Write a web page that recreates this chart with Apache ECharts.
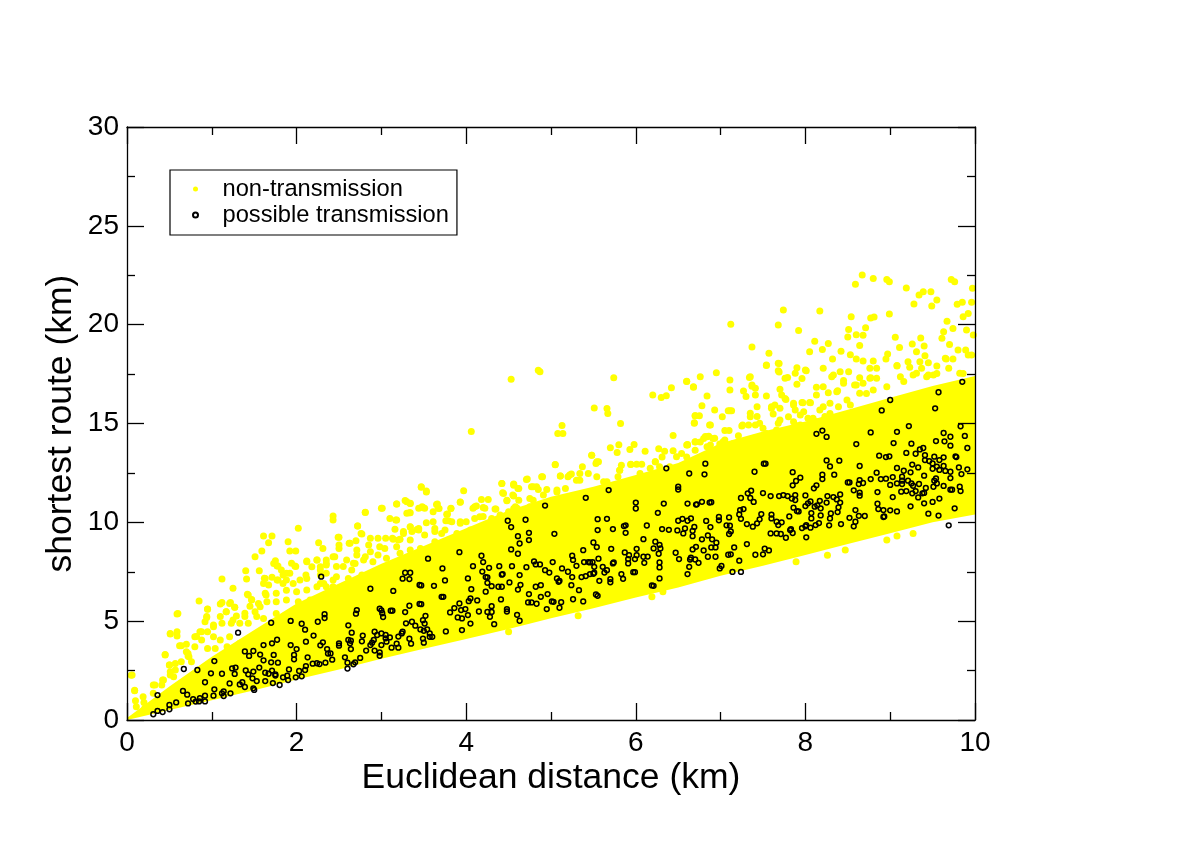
<!DOCTYPE html>
<html>
<head>
<meta charset="utf-8">
<title>shortest route vs Euclidean distance</title>
<script src="https://cdn.jsdelivr.net/npm/echarts@6/dist/echarts.min.js"></script>
<style>
    html, body {margin: 0; padding: 0; background: #fff;}
    #chart {width: 1200px; height: 848px;}
</style>
</head>
<body>
<div id="chart"></div>
<script>
// dense part of the yellow cloud
const coreX = [0,.25,.5,1,1.5,2,2.5,3,3.5,4,4.5,5,5.5,6,6.5,7,7.5,8,8.5,9,9.5,10];
const coreLower = [0,.25,.5,1,1.5,2.05,2.55,3.1,3.6,4.1,4.6,5.15,5.65,6.2,6.7,7.3,7.8,8.35,8.9,9.45,10,10.4];
const coreUpper = [.1,.9,1.7,3.2,4.55,5.9,6.9,7.9,8.8,9.7,10.6,11.3,11.8,12.4,13,14,14.6,15.1,15.7,16.3,16.9,17.4];

// yellow points outside the dense part
const nonTransmission = [
[.06,2.28],[.09,1.48],[.10,.98],[.11,.67],[.20,.88],[.21,.59],[.31,1.77],[.42,2.02],[.45,3.31],[.51,4.35],[.59,4.47],[.59,5.36],[.50,2.78],[.51,2.28],[.57,2.53],[.64,3.76],[.70,3.83],[.72,3.37],[.73,3.20],[.86,4.47],[.85,6.02],[.95,5.60],[1.10,5.87],[1.12,5.94],[1.22,5.94],[1.27,5.70],[1.17,5.48],[1.25,6.66],[1.12,7.13],[1.40,7.55],[1.41,7.13],[1.42,6.36],[1.47,6.10],[1.51,8.26],[1.59,8.55],[1.61,9.31],[1.71,9.31],[1.67,8.97],[1.56,7.55],[1.75,8.06],[1.78,7.79],[1.82,7.59],[1.62,7.17],[1.71,7.22],[1.64,6.32],[1.90,9.02],[1.92,8.55],[1.99,8.55],[1.94,7.93],[1.99,7.76],[2.02,9.70],[2.12,8.04],[2.11,7.34],[2.26,8.97],[2.31,8.68],[2.24,8.09],[2.43,10.32],[2.43,10.12],[2.35,8.09],[2.45,8.26],[2.49,9.24],[2.50,8.68],[2.62,8.94],[2.59,8.09],[2.72,9.81],[2.81,10.51],[2.77,9.41],[2.70,9.07],[2.71,8.60],[2.87,9.19],[2.96,9.19],[3.05,9.19],[3.01,10.71],[3.10,10.20],[3.18,10.12],[3.18,10.93],[3.28,11.10],[3.34,10.96],[3.30,10.46],[3.34,10.49],[3.16,9.65],[3.34,9.78],[3.26,9.44],[3.13,9.19],[3.20,9.11],[3.44,10.71],[3.44,9.61],[2.85,8.85],[2.81,8.26],[2.98,8.77],[3.34,9.11],[2.28,7.59],[2.47,7.76],[2.67,7.93],[2.43,7.08],[1.10,5.23],[.94,5.23],[1.02,4.72],[.82,4.22],[1.25,5.06],[1.39,5.40],[1.57,5.73],[1.77,7.08],[1.88,7.08],[1.96,6.91],[2.12,6.58],[2.28,6.91],
[4.53,17.24],[4.87,17.62],[4.85,17.7],[5.74,17.31],[4.06,14.60],[5.51,15.79],[5.66,15.76],[5.67,15.51],[5.82,15.0],[5.13,14.90],[5.08,14.50],[5.14,14.50],[6.20,16.44],[6.30,16.32],[6.36,16.40],[6.42,16.81],[6.60,17.14],[6.68,16.86],[6.70,15.39],[6.69,15.04],[6.44,14.39],[6.61,13.94],[6.70,14.07],[5.70,13.77],[5.80,13.92],[5.78,13.53],[5.98,13.94],[5.93,13.69],[6.11,13.60],[6.27,13.72],[6.34,13.60],[6.44,13.62],[5.48,13.40],[5.54,13.06],[5.05,12.91],[5.37,12.81],[5.83,12.89],[5.94,12.93],[6.07,12.94],[6.23,13.06],[4.90,12.30],[4.72,12.19],[4.42,11.97],[4.56,11.92],[5.11,12.34],[5.22,12.39],[3.47,11.78],[3.53,11.54],[3.97,11.60],[4.18,11.16],[4.26,11.16],[3.93,11.02],[4.48,11.09],[4.61,11.71],[4.77,11.80],[4.83,11.80],[3.30,11.04],[3.34,10.95],[3.49,10.75],[3.65,10.90],[3.68,10.70],[3.82,10.70],[3.61,10.53],[3.33,10.48],[3.77,10.41],[4.10,10.79],[4.20,10.75],[4.34,10.67],[3.53,9.98],[3.61,10.03],[3.79,10.08],[3.93,10.03],[3.34,9.77],[3.42,9.64],[3.63,9.69],[3.71,9.44],[4.16,10.28],[4.40,10.28],[4.58,10.79],[4.79,11.12],[5.07,11.63],[5.34,12.13],[5.62,12.05],[5.81,12.64],[6.05,12.47],[6.17,12.73],[6.28,12.81],[6.60,13.31],
[8.67,22.51],[8.59,22.04],[8.80,22.34],[8.96,22.29],[8.99,22.17],[9.19,21.85],[9.72,22.29],[9.76,22.17],[9.97,21.84],[9.96,21.13],[9.48,21.67],[9.39,21.67],[9.34,21.50],[9.55,21.25],[9.28,21.04],[9.49,20.94],[9.79,21.03],[9.85,21.13],[8.17,20.69],[7.74,20.74],[7.12,20.02],[7.68,19.98],[7.92,19.71],[8.54,20.40],[8.77,20.34],[8.81,20.39],[8.99,20.54],[8.51,19.76],[8.71,19.85],[8.50,19.37],[8.60,19.49],[8.68,19.46],[9.06,19.36],[9.36,19.32],[9.67,20.17],[9.92,20.57],[9.86,20.40],[9.63,19.64],[9.74,19.81],[9.90,19.73],[9.61,19.31],[9.70,19.0],[9.98,19.48],[9.89,18.72],[9.80,18.72],[9.96,18.46],[7.37,18.87],[7.57,18.56],[8.11,19.16],[8.27,19.05],[8.20,18.75],[8.05,18.63],[8.42,18.65],[8.64,18.94],[8.53,18.48],[9.11,18.85],[9.26,19.02],[9.40,18.92],[9.31,18.63],[8.97,18.51],[8.95,18.26],[8.32,18.26],[8.60,18.26],[8.68,18.16],[8.80,18.16],[9.41,18.43],[7.54,17.94],[7.69,18.04],[7.69,17.60],[7.90,17.82],[7.88,17.54],[8.01,17.67],[8.21,17.79],[9.45,18.07],[9.21,18.13],[9.35,18.13],[9.08,17.94],[8.84,17.79],[8.76,17.79],[9.55,17.91],[9.66,18.26],[9.74,18.26],[9.23,17.84],[9.31,17.54],[9.45,17.45],[6.95,17.57],[6.76,17.37],[6.60,17.13],[6.68,16.84],[7.11,17.20],[7.34,17.33],[7.79,17.33],[7.96,17.28],[7.90,16.99],[8.31,17.37],[8.41,17.62],[8.51,17.62],[8.45,17.17],[8.77,17.32],[8.64,17.32],[9.12,17.37],[7.11,16.69],[7.27,16.64],[7.37,16.89],[7.41,16.44],[7.54,16.39],[7.70,16.73],[7.76,16.27],[8.13,16.83],[8.21,16.86],[8.13,16.44],[8.27,16.56],[8.38,16.66],[8.60,16.95],[6.84,16.39],[6.78,15.90],[6.93,15.68],[7.11,15.65],[7.02,15.34],[6.70,15.39],[6.75,15.39],[6.69,15.01],[6.88,14.92],[7.05,14.64],[7.10,14.64],[7.21,14.38],[7.43,15.85],[7.60,15.85],[7.62,15.48],[7.86,16.02],[7.97,16.05],[8.06,16.05],[8.21,15.85],[7.80,15.34],[7.88,14.92],[7.35,15.34],[7.26,14.92],[7.46,15.01],[7.68,15.01],[7.94,15.43],[8.09,15.26],[8.29,15.51],[8.49,16.19],[8.72,16.52],[8.96,16.86],[9.27,17.45],[9.55,17.53],[9.86,17.53],[6.61,13.91],[6.70,14.08],[6.84,14.33],[6.93,14.25],[7.05,14.16],[7.15,13.99],
[8.96,9.10],[9.08,9.31],[8.26,8.33],[8.47,8.60],[7.89,8.0],[9.27,9.44],[5.32,5.27],[6.19,6.23],[6.32,6.49],[4.50,4.46],
[1.73,7.92],[1.77,7.79],[1.92,7.42],[1.98,7.79],[1.88,7.42],[1.63,7.16],[1.61,6.91],[1.67,6.83],[1.78,7.08],[1.84,7.33],[2.04,7.08],[2.12,7.16],[1.84,6.91],[2.12,8.01],[2.24,8.09],[2.18,7.75],[2.28,7.75],[2.35,7.92],[2.28,7.33],[2.35,7.42],[1.63,6.41],[1.76,6.41],[1.88,6.57],[2.00,6.49],[2.24,6.74],[2.35,6.74],[1.43,6.32],[1.47,6.07],[1.55,5.90],[1.45,5.76],[1.51,5.48],[1.65,5.98],[1.76,5.98],[1.88,6.07],[2.02,5.98],[2.16,6.07],[2.28,6.15],[1.21,5.90],[1.27,5.70],[1.17,5.48],[.95,5.61],[.94,5.19],[.92,4.97],[1.02,4.80],[1.12,4.89],[1.23,4.89],[1.29,5.26],[1.39,5.23],[1.33,4.89],[1.43,4.89],[1.53,5.23],[1.61,5.14],[1.76,5.39],[.88,4.47],[.95,4.47],[.80,4.21],[.88,4.05],[.95,3.62],[.80,3.71],[.62,3.76],[.51,4.38],[.59,4.25],[.60,5.39],[.45,3.29],[.70,3.45],[.72,3.24],[1.02,4.21],[1.10,4.05],[1.21,4.21],[1.04,3.62],[1.18,3.71],[1.33,3.88],[.50,2.78],[.57,2.86],[.64,2.95],[.51,2.44],[.55,2.19],[.76,2.95],[.43,2.02],[.33,1.77],[.41,1.77],[.09,1.51],[.05,2.27],[.31,1.35],[.19,1.18],
[3.47,11.80],[3.53,11.58],[4.42,11.97],[4.56,11.94],[4.43,11.50],[4.55,11.38],[2.81,10.50],[3.0,10.71],[3.18,10.93],[3.48,10.79],[3.51,10.71],[3.66,10.93],[3.67,10.71],[3.82,10.71],[3.78,10.42],[3.93,11.03],[4.08,10.71],[4.12,10.82],[4.22,10.71],[4.35,10.67],[3.17,10.12],[2.72,9.81],[3.76,10.08],[3.83,10.03],[3.93,9.95],[4.00,10.03],[4.10,10.2],[4.20,10.29],[4.30,10.2],[4.40,10.37],[4.50,10.54],[4.60,10.71],[3.44,9.69],[3.26,9.53],[3.36,9.53],[3.63,9.53],[3.75,9.61],[3.89,9.44],[4.05,9.61],[4.16,9.53],[4.32,9.61],[4.46,9.78],[4.58,10.03],[2.76,9.44],[2.50,9.24],[2.50,8.85],[2.63,8.94],[3.14,9.15],[3.22,9.14],[3.51,9.36],[3.63,9.02],[3.79,9.10],[3.04,8.68],[3.18,8.77],[2.43,8.26],[2.71,8.35],[2.87,8.51],[2.96,8.35],[2.69,7.92],[2.55,7.76],[2.35,7.84],[2.79,8.09],[2.90,8.01],[3.06,8.18],[3.22,8.43],[3.34,8.60],[3.46,8.68],[2.47,7.25],[2.65,7.59],[2.61,7.16],[2.32,6.91],[2.43,6.74],[2.77,7.33],
[4.56,11.88],[4.62,11.71],[4.44,11.46],[4.56,11.33],[4.71,12.17],[4.79,11.80],[4.85,11.66],[4.95,11.66],[4.89,12.30],[5.11,12.34],[5.20,12.30],[5.24,12.44],[5.07,11.54],[5.17,11.71],[4.48,11.12],[4.62,11.12],[4.75,11.21],[4.91,11.38],[5.30,12.13],[5.34,12.47],[5.44,12.47],[5.54,12.30],[5.66,12.05],[5.79,12.30],[5.81,12.64],[5.94,12.94],[6.01,12.94],[6.23,13.06],[6.31,13.31],[6.40,12.81],[6.48,13.32],[6.54,13.48],[6.70,13.65],[6.60,13.91],[6.80,14.24],[6.86,14.36],[6.91,14.24],[6.76,14.07],[6.88,13.91],[6.99,13.96],[4.56,10.70],[4.75,10.79],[5.05,12.93],[5.48,13.40],[5.53,12.98],[5.56,13.06],
[7.30,16.36],[7.35,17.37],[7.37,16.95],[7.41,16.78],[7.68,18.05],[7.54,17.96],[7.68,17.67],[7.76,17.29],[8.0,17.71],[7.09,15.65],[7.13,15.65],[6.87,14.93],[6.82,14.34],[7.25,14.87],[7.33,14.93],[7.41,14.93],[7.35,15.52],[7.43,15.35],[7.50,14.76],[7.64,15.94],[7.72,16.44],[7.77,16.22],[7.70,15.77],[7.60,15.77],[7.86,15.94],[7.96,16.06],[8.05,16.06],[7.88,15.68],[7.98,15.60],[8.03,15.26],[7.86,15.09],[7.70,15.18],[8.37,16.61],[8.45,17.03],[8.33,17.45],[8.58,16.95],[8.68,17.03],[8.76,17.29],[8.84,17.29],[9.08,17.91],[9.37,17.79],[9.43,17.37],[9.51,17.45],[9.65,18.30],[9.69,17.79],[9.82,17.54],[9.92,18.47],[8.64,16.53],[8.80,16.70],[9.16,17.12],[8.39,15.85],[8.29,16.02],[8.17,15.68],[8.53,15.94],[8.23,15.35],[6.84,13.83],[7.03,14.08],[7.17,13.91],[7.35,13.75],[7.39,14.25],[7.54,14.50],[7.66,14.67],[7.94,14.93],[8.13,15.09]
];

// black open circles
const possibleTransmission = [
[.31,.29],[.36,.46],[.42,.40],[.50,.54],[.50,.76],[.58,.89],[.36,1.26],[.66,1.47],[.71,1.28],[.72,.84],[.78,1.06],[.81,.93],[.85,.94],[.86,1.10],[.92,1.23],[.92,.94],[1.03,1.55],[1.02,1.23],[1.12,1.35],[1.14,1.45],[1.14,1.21],[1.22,1.35],[.92,1.91],[.67,2.58],[.83,2.53],[.99,2.36],[1.12,2.34],[1.03,2.98],[1.24,2.61],[1.28,2.65],[1.27,2.33],[1.21,1.85],[1.33,1.80],[1.36,1.91],[1.39,1.67],[1.49,1.60],[1.50,1.52],[1.40,2.51],[1.43,2.31],[1.49,2.45],[1.48,2.11],[1.53,1.97],[1.63,1.97],[1.72,1.87],[1.80,1.77],[1.84,2.16],[1.89,2.24],[1.90,2.02],[1.99,2.16],[2.06,2.21],[2.03,2.48],[2.10,2.53],[2.11,2.73],[1.91,2.56],[1.63,2.39],[1.67,2.34],[1.71,2.50],[1.75,2.31],[1.75,2.25],[1.56,2.65],[1.39,3.47],[1.49,3.49],[1.44,3.24],[1.57,3.31],[1.61,3.02],[1.73,3.29],[1.70,2.92],[1.78,2.90],[1.61,3.79],[1.71,3.88],[1.77,4.06],[1.93,3.79],[2.00,3.59],[1.97,3.29],[1.97,3.07],[2.13,3.17],[2.19,2.85],[2.24,2.87],[2.27,2.83],[2.34,2.90],[2.42,3.05],[2.57,3.17],[2.60,2.90],[2.60,2.60],[2.67,2.82],[2.69,2.92],[2.75,3.14],[2.82,3.51],[2.92,3.51],[2.98,3.42],[2.98,3.25],[3.12,3.66],[3.20,3.66],[3.18,3.86],[3.35,3.86],[3.33,4.11],[1.31,4.42],[1.70,4.92],[1.93,5.01],[2.06,4.87],[2.10,4.57],[2.20,4.27],[2.11,3.96],[2.25,4.97],[2.33,5.35],[2.33,5.16],[2.29,7.25],[2.31,3.93],[2.28,3.78],[2.36,3.59],[2.40,3.37],[2.37,3.36],[2.50,3.76],[2.50,3.88],[2.61,4.79],[2.65,4.42],[2.61,4.05],[2.64,4.01],[2.64,3.59],[2.63,3.88],[2.77,3.98],[2.78,4.27],[2.70,5.38],[2.71,5.56],[2.87,6.64],[3.14,6.53],[2.98,5.63],[3.00,5.55],[3.01,5.40],[3.02,5.21],[3.11,5.53],[3.13,5.53],[3.28,5.46],[3.33,5.78],[3.29,4.89],[3.36,4.97],[3.40,4.77],[2.92,4.47],[2.95,4.30],[3.00,4.38],[3.05,4.30],[3.05,4.13],[3.10,4.18],[3.24,4.38],[3.25,4.47],[3.20,4.22],[2.91,4.05],[2.89,3.91],[2.87,3.79],[3.00,3.79],[3.06,3.96],[3.28,7.45],[3.34,7.45],[3.25,7.15],[3.33,7.13],[3.45,6.83],[3.45,5.87],
[3.55,8.16],[3.47,6.81],[3.62,6.79],[3.72,7.67],[3.75,7.06],[3.71,6.23],[3.73,6.23],[3.47,5.86],[3.46,4.58],[3.50,4.51],[3.54,4.58],[3.51,4.88],[3.52,5.27],[3.49,5.05],[3.57,4.38],[3.60,4.21],[3.57,4.21],[3.49,4.12],[3.50,3.91],[3.76,4.48],[3.81,5.44],[3.86,5.66],[3.92,5.90],[3.94,5.56],[3.99,5.61],[3.90,5.19],[3.95,5.14],[4.02,5.31],[3.95,4.55],[4.05,4.88],[4.15,5.49],[4.13,6.05],[4.03,6.01],[4.05,6.15],[4.06,6.62],[4.02,7.16],[3.92,8.49],[4.08,7.78],[4.18,8.31],[4.20,7.99],[4.19,7.51],[4.27,7.70],[4.23,7.23],[4.25,7.22],[4.25,6.94],[4.30,6.77],[4.23,6.49],[4.38,6.74],[4.42,6.74],[4.39,7.78],[4.42,7.35],[4.43,7.38],[4.54,7.78],[4.51,6.96],[4.63,7.33],[4.64,6.84],[4.61,6.60],[4.41,6.10],[4.30,5.76],[4.25,5.47],[4.30,5.47],[4.28,5.22],[4.33,4.85],[4.48,5.61],[4.48,5.49],[4.60,5.32],[4.63,5.02],[4.74,6.37],[4.73,5.95],[4.77,5.95],[4.83,5.88],[4.88,6.23],[4.96,6.37],[5.01,6.00],[5.03,5.98],[4.95,5.61],[5.10,5.68],[5.12,5.96],[4.82,6.74],[4.88,6.82],[4.71,7.73],[4.80,8.02],[4.82,7.87],[4.87,7.87],[4.93,7.58],[4.98,7.46],[5.02,7.99],[5.07,7.16],[5.09,6.99],[5.10,7.04],[5.13,7.67],[5.20,7.50],[5.25,7.23],[5.24,6.82],[5.33,6.57],[5.26,6.11],[5.38,6.00],[4.49,10.08],[4.53,9.76],[4.70,10.13],[4.74,9.47],[4.61,9.30],[4.74,9.10],[4.63,8.93],[4.53,8.63],[4.61,8.41],[4.93,10.85],[5.04,9.42],[5.25,8.31],[5.26,8.10],[5.30,7.80],[5.38,8.59],[5.39,7.99],[5.44,7.99],[5.46,7.97],[5.49,7.99],[5.41,11.24],[5.68,11.63],[5.50,8.98],[5.54,8.75],[5.56,8.16],[5.51,7.75],[5.50,7.40],[5.51,7.45],[5.46,7.38],[5.41,7.28],[5.36,7.23],[5.57,7.04],[5.53,6.35],[5.55,6.28],[5.61,7.75],[5.63,7.46],[5.66,7.58],[5.73,7.92],[5.74,7.97],[5.70,7.13],[5.70,6.97],[5.83,7.38],[5.85,7.14],[5.97,7.48],[5.99,7.48],[6.19,6.81],[6.21,6.79],[6.28,7.16],[6.28,7.72],[6.28,7.97],[6.10,7.95],[6.14,8.27],[6.09,8.26],[5.99,8.14],[5.91,7.92],[5.91,8.14],[5.92,8.34],[5.87,8.48],[6.01,8.34],[6.01,8.66],[5.71,8.66],[6.27,8.41],[6.21,8.68],[6.29,8.68],[6.28,8.86],[6.23,9.02],[6.09,9.15],[5.55,9.61],[5.55,10.16],[5.66,10.18],[5.73,9.66],[5.86,9.81],[5.88,9.85],[5.88,9.47],[6.13,9.84],[6.00,11.0],[6.00,10.70],[6.33,10.95],[6.26,10.48],[6.31,9.66],[6.39,9.62],[6.36,12.73],[6.63,12.47],[6.50,11.80],[6.50,11.66],[6.61,10.95],[6.71,10.90],[6.50,10.08],[6.55,10.18],[6.61,10.08],[6.65,10.20],[6.69,9.77],[6.58,9.69],[6.49,9.59],[6.56,9.44],[6.67,9.57],[6.67,9.30],[6.71,8.76],[6.67,8.63],[6.47,8.46],[6.51,8.14],[6.64,8.12],[6.65,8.21],[6.70,8.12],[6.74,7.95],[6.63,7.75],[6.61,7.38],
[6.82,12.97],[6.81,12.43],[6.87,11.0],[6.89,11.02],[6.78,11.04],[6.72,10.91],[6.83,10.07],[6.88,9.76],[6.98,10.27],[6.98,10.10],[7.10,10.25],[7.07,9.85],[7.11,9.83],[7.12,9.54],[7.10,9.41],[6.85,9.34],[6.90,9.14],[6.78,9.14],[6.95,8.97],[6.80,8.58],[6.89,8.73],[6.94,8.73],[7.16,8.73],[6.85,8.26],[6.94,8.26],[7.31,8.90],[7.09,8.36],[7.12,8.38],[7.22,8.06],[7.01,7.79],[6.99,7.67],[7.14,7.49],[7.24,7.49],[7.41,8.36],[7.50,8.38],[7.52,8.67],[7.57,8.58],[7.59,9.44],[7.66,9.44],[7.71,9.41],[7.77,9.22],[7.82,9.61],[7.83,9.66],[7.85,9.46],[8.01,9.24],[7.96,9.71],[8.01,9.86],[8.00,9.80],[8.06,9.73],[8.12,9.86],[8.16,9.96],[8.28,9.85],[8.42,9.91],[8.57,9.80],[8.59,10.03],[8.52,10.23],[8.63,10.33],[8.70,10.32],[8.59,10.62],[8.92,10.27],[8.93,10.30],[8.92,10.62],[9.00,10.61],[9.08,10.55],[8.86,10.67],[8.85,10.94],[9.03,11.28],[8.85,11.53],[8.84,12.51],[8.77,12.19],[8.64,12.14],[8.63,11.94],[8.68,11.99],[8.57,11.62],[8.64,11.50],[8.64,11.35],[8.50,12.02],[8.52,12.02],[8.64,12.85],[8.40,13.12],[8.25,13.13],[8.29,12.83],[8.34,12.41],[8.20,12.41],[8.20,12.19],[8.13,11.87],[8.10,11.72],[7.94,12.26],[7.89,12.09],[7.85,11.87],[7.85,12.54],[7.40,12.56],[7.51,12.97],[7.53,12.97],[7.50,11.48],[7.36,11.60],[7.32,11.47],[7.24,11.23],[7.35,11.23],[7.39,11.03],[7.59,11.33],[7.69,11.33],[7.74,11.38],[7.79,11.33],[7.88,11.38],[7.84,11.20],[7.88,11.13],[8.00,11.36],[8.06,11.06],[8.00,10.82],[8.03,10.96],[8.11,10.79],[8.14,10.86],[8.17,11.09],[8.18,10.71],[8.26,11.33],[8.25,11.0],[8.33,11.28],[8.37,11.16],[8.41,11.41],[8.41,11.0],[8.39,10.76],[8.38,10.52],[8.30,10.45],[8.29,10.20],[8.18,10.35],[8.07,10.47],[8.07,10.20],[7.90,10.57],[7.92,10.55],[7.86,10.74],[7.81,10.30],[7.72,10.00],[7.68,9.86],[7.66,10.03],[7.60,10.39],[7.60,10.20],[7.48,10.42],[7.46,10.15],[7.43,9.95],[7.38,9.78],[7.31,9.91],[7.24,10.18],[7.22,10.40],[7.23,10.62],[7.27,10.67],[8.13,14.48],[8.20,14.64],[8.25,14.32],[8.60,13.96],[8.77,14.55],[8.90,15.66],[9.00,16.19],[9.08,14.58],[9.22,14.87],[9.04,14.01],[9.25,13.98],[8.87,13.37],[8.95,13.30],[8.99,13.34],[9.19,13.51],[9.30,13.47],[9.35,13.69],[9.39,13.76],[9.41,13.40],[9.41,13.15],[9.46,13.10],[9.52,13.32],[9.58,13.15],[9.63,13.29],[9.50,12.98],[9.55,12.82],[9.50,12.71],[9.58,12.65],[9.65,12.60],[9.71,12.56],[9.63,12.85],[9.26,12.92],[9.33,12.78],[9.08,12.75],[9.16,12.61],[9.24,12.53],[9.03,12.29],[8.95,12.21],[8.89,12.19],[9.00,11.89],[9.14,12.31],[9.14,12.11],[9.08,11.97],[9.14,11.94],[9.21,12.11],[9.25,11.97],[9.27,11.85],[9.34,11.94],[9.40,12.36],[9.54,12.22],[9.52,12.11],[9.55,11.97],[9.51,11.80],[9.63,11.84],[9.71,12.24],[9.84,12.44],[9.81,12.78],[9.91,12.68],[9.77,13.34],[9.78,13.30],[9.54,14.11],[9.64,14.10],[9.63,14.52],[9.71,14.33],[9.71,13.88],[9.88,14.37],[9.91,13.76],[9.83,14.86],[9.53,15.77],[9.57,16.58],[9.85,17.11],[9.13,11.55],[9.19,11.58],[9.30,11.58],[9.26,11.47],[9.42,11.74],[9.38,11.47],[9.40,11.49],[9.33,11.26],[9.24,10.81],[9.40,10.96],[9.50,11.03],[9.58,11.20],[9.76,10.71],[9.45,10.44],[9.57,10.34],[9.69,9.85],[9.71,11.65],[9.73,11.65],[9.82,11.80],[9.83,11.58]
];

const chart = echarts.init(document.getElementById('chart'));
const fontName = '"Liberation Sans", Arial, sans-serif';

function makeXAxis(position, showLabel) {
    return {
        type: 'value', position: position, min: 0, max: 10, interval: 2, z: 10,
        name: showLabel ? 'Euclidean distance (km)' : '',
        nameLocation: 'middle', nameGap: 40, nameMoveOverlap: false,
        nameTextStyle: {fontFamily: fontName, fontSize: 35.5, color: '#000'},
        axisLine: {onZero: false, lineStyle: {color: '#000', width: 1.3}},
        axisTick: {show: true, inside: true, length: 17, lineStyle: {color: '#000', width: 1.3}},
        minorTick: {show: true, splitNumber: 2, length: 8, lineStyle: {color: '#000', width: 1.3}},
        axisLabel: {show: showLabel, fontFamily: fontName, fontSize: 28, color: '#000', margin: 9},
        splitLine: {show: false}
    };
}

function makeYAxis(position, showLabel) {
    return {
        type: 'value', position: position, min: 0, max: 30, interval: 5, z: 10,
        name: showLabel ? 'shortest route (km)' : '',
        nameLocation: 'middle', nameGap: 48, nameMoveOverlap: false,
        nameTextStyle: {fontFamily: fontName, fontSize: 35.5, color: '#000'},
        axisLine: {onZero: false, lineStyle: {color: '#000', width: 1.3}},
        axisTick: {show: true, inside: true, length: 17, lineStyle: {color: '#000', width: 1.3}},
        minorTick: {show: true, splitNumber: 2, length: 8, lineStyle: {color: '#000', width: 1.3}},
        axisLabel: {show: showLabel, fontFamily: fontName, fontSize: 28, color: '#000', margin: 8, padding: [5, 0, 0, 0]},
        splitLine: {show: false}
    };
}

chart.setOption({
    animation: false,
    backgroundColor: '#fff',
    grid: {left: 127, top: 127, width: 848, height: 593, containLabel: false},
    legend: {
        left: 170, top: 170, orient: 'vertical',
        padding: [7, 8, 8, 22],
        itemWidth: 44, itemHeight: 5, itemGap: 2,
        borderColor: '#000', borderWidth: 1.2, backgroundColor: '#fff',
        textStyle: {fontFamily: fontName, fontSize: 23.7, color: '#000', padding: 0},
        data: ['non-transmission', 'possible transmission'],
        z: 20
    },
    xAxis: [makeXAxis('bottom', true), makeXAxis('top', false)],
    yAxis: [makeYAxis('left', true), makeYAxis('right', false)],
    series: [
        {
            // dense yellow band
            name: 'core', type: 'custom', silent: true, z: 1,
            data: [[0, 0]],
            renderItem: function (params, api) {
                const pts = [];
                for (let i = 0; i < coreX.length; i++) pts.push(api.coord([coreX[i], coreLower[i]]));
                for (let i = coreX.length - 1; i >= 0; i--) pts.push(api.coord([coreX[i], coreUpper[i]]));
                return {type: 'polygon', shape: {points: pts}, style: {fill: '#ffff00'}};
            }
        },
        {
            name: 'non-transmission', type: 'scatter', z: 2,
            symbol: 'circle', symbolSize: 7,
            itemStyle: {color: '#ffff00', opacity: 1},
            data: nonTransmission
        },
        {
            name: 'possible transmission', type: 'scatter', z: 3,
            symbol: 'circle', symbolSize: 4.8,
            itemStyle: {color: 'rgba(0,0,0,0)', borderColor: '#000', borderWidth: 1.5, opacity: 1},
            data: possibleTransmission
        }
    ]
});
</script>
</body>
</html>
